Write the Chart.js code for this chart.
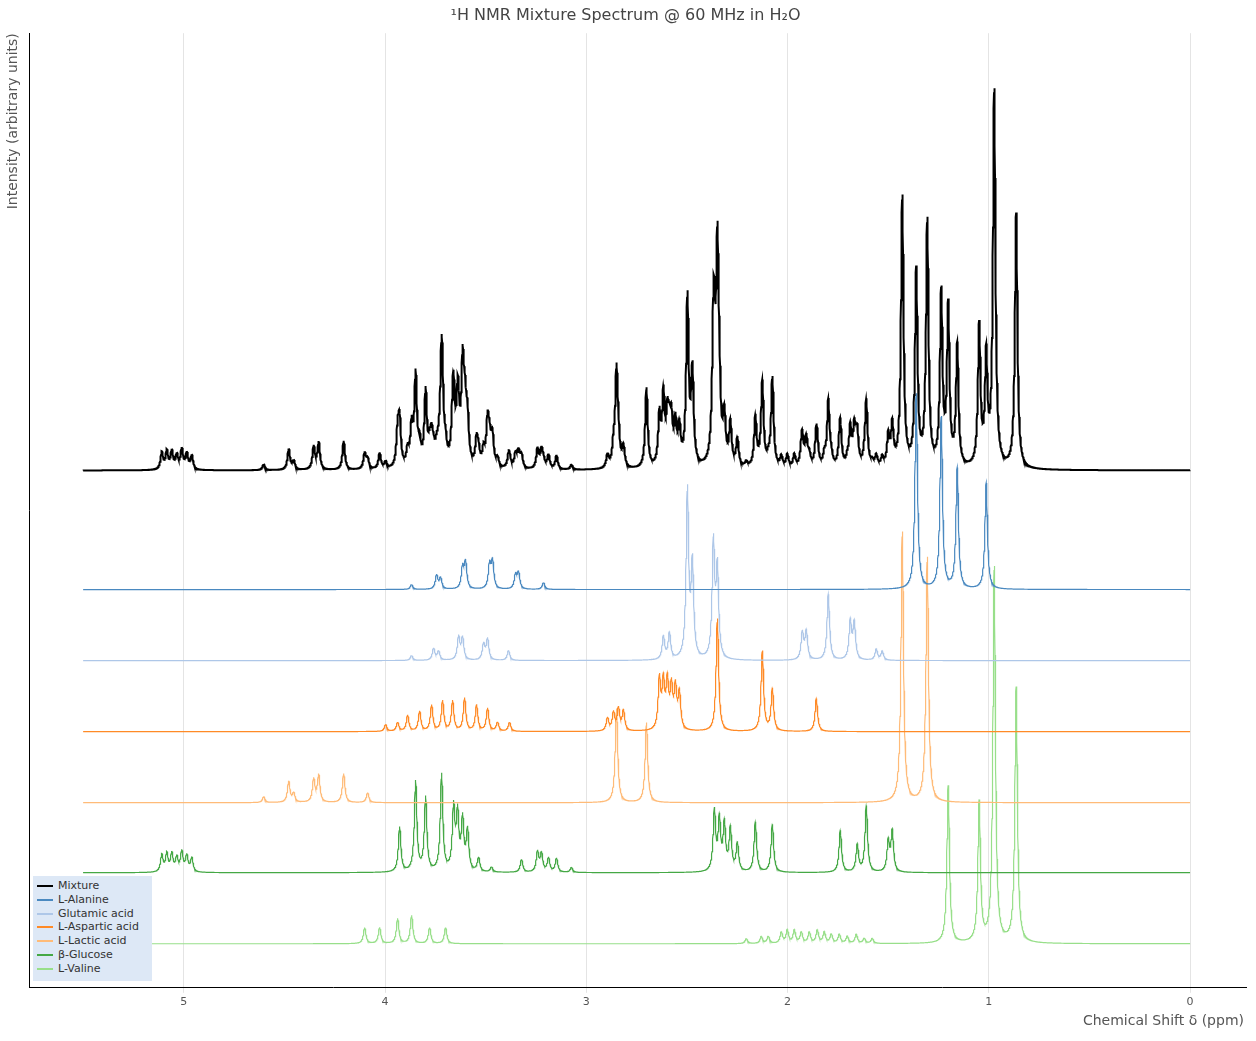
<!DOCTYPE html>
<html><head><meta charset="utf-8">
<script src="https://cdn.jsdelivr.net/npm/chart.js@4"></script>
<style>
body{margin:0;background:#fff;font-family:"DejaVu Sans",sans-serif}
#wrap{position:relative;width:1256px;height:1041px}
#legend{position:absolute;left:33px;top:876px;width:119px;height:105px;background:#dde8f6;font-size:11px;color:#333;padding:3px 0 0 4px;box-sizing:border-box;line-height:13.8px}
#legend span{display:inline-block;width:16px;height:0;border-top:2px solid;vertical-align:middle;margin-right:5px}
#xtitle{position:absolute;right:12px;top:1012px;font-size:14px;color:#555}
</style></head><body>
<div id="wrap"><canvas id="c" width="1256" height="1041"></canvas><div id="legend"></div><div id="xtitle">Chemical Shift δ (ppm)</div></div>
<script>
// peak lists: [pixel-read shift in ppm, height above own baseline]
const names = ['L-Alanine','Glutamic acid','L-Aspartic acid','L-Lactic acid','β-Glucose','L-Valine'];
const colors = ['#4a89c0','#aec7e8','#ff8a26','#ffbb78','#45a845','#98df8a'];
const baselines = [398, 327, 256, 185, 115, 44];
const mixBaseline = 517;
const px = p => (1189 - p) / 201.4;

const alanine = [[410,5],[435,14],[439,11],[461,21],[464,26],[488,24],[491,27],[514,14],[517,16],[542,7],[915,196],[940,172],[956,120],[985,106]];
const glutamic = [[410,5],[432,12],[437,9],[457,23],[461,22],[482,16],[486,21],[507,10],[662,23],[668,26],[686,168],[691,92],[712,115],[716,88],[801,27],[805,28],[827,66],[849,38],[853,36],[875,11],[881,9]];
const aspartic = [[384,7],[396,9],[406,16],[418,20],[430,26],[441,30],[451,30],[463,33],[475,26],[486,23],[496,9],[508,9],[606,13],[612,18],[617,22],[622,20],[658,50],[662,45],[666,45],[670,40],[674,40],[678,36],[716,113],[761,80],[771,42],[815,33]];
const lactic = [[262,6],[287,21],[292,9],[312,23],[317,27],[342,29],[366,10],[615,94],[645,80],[901,270],[926,245]];
const glucose = [[160,17],[165,18],[170,18],[175,14],[180,20],[185,16],[190,14],[398,45],[414,90],[424,74],[440,97],[452,62],[456,55],[461,50],[466,40],[477,14],[490,5],[520,13],[536,20],[540,18],[547,14],[555,14],[570,5],[713,60],[718,50],[723,46],[729,42],[736,28],[754,50],[771,48],[839,42],[856,27],[865,66],[887,30],[891,40]];
const valine = [[363,16],[378,16],[396,25],[410,28],[428,16],[444,16],[745,5],[760,7],[767,7],[780,11],[786,13],[793,13],[800,11],[808,11],[816,13],[823,11],[830,9],[838,9],[846,7],[855,9],[863,5],[871,5],[947,158],[978,140],[993,375],[1015,255]];
const peakLists = [alanine, glutamic, aspartic, lactic, glucose, valine];

const xs = [];
for (let i = 0; i <= 5500; i++) xs.push(5.5 - i * 0.001);
const hw = 0.0075;
function spectrum(list) {
  return xs.map(x => list.reduce((s, [p, h]) => {
    const d = (x - px(p)) / hw; return s + h / (1 + d * d);
  }, 0));
}
const curves = peakLists.map(spectrum);
const mix = xs.map((x, i) => curves.reduce((s, c) => s + c[i], 0));

const datasets = [{label: 'Mixture', data: xs.map((x, i) => ({x, y: mixBaseline + mix[i]})), borderColor: '#000', borderWidth: 2}];
curves.forEach((c, k) => datasets.push({label: names[k], data: xs.map((x, i) => ({x, y: baselines[k] + c[i]})), borderColor: colors[k], borderWidth: 1.2}));
datasets.forEach(d => { d.pointRadius = 0; d.fill = false; });

document.getElementById('legend').innerHTML = datasets.map(d =>
  `<div><span style="border-color:${d.borderColor}"></span>${d.label}</div>`).join('');

Chart.defaults.font.family = '"DejaVu Sans", sans-serif';
new Chart(document.getElementById('c'), {
  type: 'line',
  data: {datasets},
  options: {
    responsive: false, animation: false, parsing: false, normalized: true,
    plugins: {
      legend: {display: false}, tooltip: {enabled: false},
      title: {display: true, text: '¹H NMR Mixture Spectrum @ 60 MHz in H₂O', color: '#444', font: {size: 16, weight: 'normal'}, padding: {top: 6, bottom: 8}}
    },
    layout: {padding: {left: 5, right: 10, bottom: 29}},
    scales: {
      x: {type: 'linear', reverse: true, min: -0.278, max: 5.765,
        afterBuildTicks: a => { a.ticks = [0,1,2,3,4,5].map(v => ({value: v})); },
        grid: {color: '#e4e4e4', drawTicks: true, tickLength: 5},
        border: {color: '#000'},
        ticks: {color: '#555', font: {size: 11}}},
      y: {min: 0, max: 954, grid: {display: false}, ticks: {display: false},
        border: {color: '#000'},
        title: {display: true, text: 'Intensity (arbitrary units)', align: 'end', color: '#555', font: {size: 14}, padding: 0}}
    }
  }
});
</script></body></html>
